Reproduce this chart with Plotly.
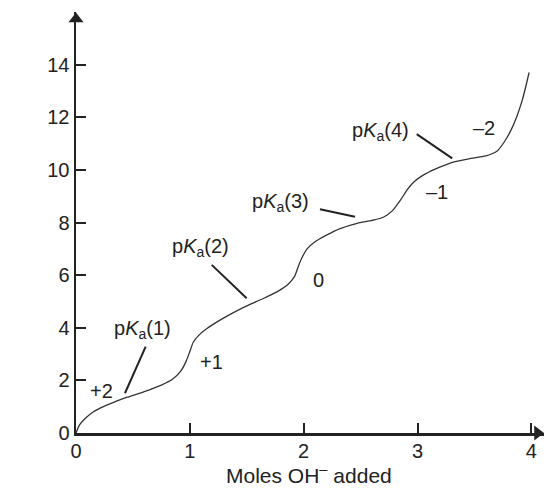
import plotly.graph_objects as go

# Titration curve points (moles OH- added, pH)
moles = [0, 0.03, 0.08, 0.15, 0.25, 0.35, 0.45, 0.55, 0.65, 0.75, 0.85, 0.92, 0.97, 1.0,
         1.03, 1.08, 1.15, 1.25, 1.35, 1.5, 1.65, 1.78, 1.87, 1.92, 1.95, 1.98, 2.03, 2.1,
         2.2, 2.32, 2.47, 2.6, 2.7, 2.78, 2.85, 2.91, 2.97, 3.05, 3.15, 3.3, 3.45, 3.6,
         3.7, 3.76, 3.82, 3.87, 3.92, 3.95, 3.98]
ph = [0, 0.3, 0.55, 0.8, 1.02, 1.2, 1.36, 1.5, 1.65, 1.82, 2.05, 2.35, 2.75, 3.1,
      3.45, 3.72, 3.97, 4.25, 4.5, 4.83, 5.12, 5.4, 5.68, 5.95, 6.3, 6.62, 7.0, 7.27,
      7.52, 7.77, 7.97, 8.08, 8.2, 8.45, 8.85, 9.25, 9.55, 9.8, 10.02, 10.28, 10.42, 10.53,
      10.72, 11.05, 11.5, 12.0, 12.65, 13.15, 13.7]

x_ticks = [0, 1, 2, 3, 4]
y_ticks = [0, 2, 4, 6, 8, 10, 12, 14]

# pKa labels and their pointer lines (text pos, line start, line end)
pka_text = ["p<i>K</i><sub>a</sub>(1)", "p<i>K</i><sub>a</sub>(2)",
            "p<i>K</i><sub>a</sub>(3)", "p<i>K</i><sub>a</sub>(4)"]
pka_tx = [0.584, 1.090, 1.800, 2.679]
pka_ty = [3.95, 7.05, 8.76, 11.46]
ptr_x0 = [0.612, 1.192, 2.143, 2.993]
ptr_y0 = [3.28, 6.39, 8.50, 11.36]
ptr_x1 = [0.430, 1.499, 2.451, 3.305]
ptr_y1 = [1.51, 5.12, 8.22, 10.44]

# charge labels
charge_text = ["+2", "+1", "0", "\u20131", "\u20132"]
charge_x = [0.228, 1.186, 2.134, 3.171, 3.584]
charge_y = [1.60, 2.70, 5.82, 9.16, 11.59]

FONT = "Liberation Sans, Arial, sans-serif"
INK = "#222222"
FS = 20

fig = go.Figure()
fig.add_trace(go.Scatter(x=moles, y=ph, mode="lines",
                         line=dict(color="#333333", width=1.3, shape="spline", smoothing=0.6),
                         hoverinfo="skip", showlegend=False))

# axis arrowheads (inside the axis ranges, so they are drawn)
fig.add_trace(go.Scatter(x=[4.054], y=[0], mode="markers", cliponaxis=False,
                         marker=dict(symbol="triangle-right", size=13, color=INK, line=dict(width=0)),
                         hoverinfo="skip", showlegend=False))
fig.add_trace(go.Scatter(x=[0], y=[15.73], mode="markers", cliponaxis=False,
                         marker=dict(symbol="triangle-up", size=13, color=INK, line=dict(width=0)),
                         hoverinfo="skip", showlegend=False))

for i in range(len(pka_text)):
    fig.add_shape(type="line", xref="x", yref="y",
                  x0=ptr_x0[i], y0=ptr_y0[i], x1=ptr_x1[i], y1=ptr_y1[i],
                  line=dict(color=INK, width=2))
    fig.add_annotation(x=pka_tx[i], y=pka_ty[i], text=pka_text[i], showarrow=False,
                       xanchor="center", yanchor="middle",
                       font=dict(family=FONT, size=FS, color=INK))

for t, x, y in zip(charge_text, charge_x, charge_y):
    fig.add_annotation(x=x, y=y, text=t, showarrow=False, xanchor="center", yanchor="middle",
                       font=dict(family=FONT, size=FS, color=INK))

fig.add_annotation(x=-0.474, y=14, text="pH", showarrow=False, xanchor="center", yanchor="middle",
                   font=dict(family=FONT, size=FS, color=INK))

# x-axis title
fig.add_annotation(x=2.05, y=0, yref="y", xref="x", text="Moles OH<sup>\u2013</sup> added",
                   showarrow=False, xanchor="center", yanchor="top", yshift=-26,
                   font=dict(family=FONT, size=21, color=INK))

fig.update_layout(
    width=544, height=488,
    margin=dict(l=76, r=0, t=12, b=55, pad=0, autoexpand=False),
    paper_bgcolor="white", plot_bgcolor="white",
    font=dict(family=FONT, size=FS, color=INK),
    xaxis=dict(range=[0, 4.111], tickvals=x_ticks, ticktext=[str(v) for v in x_ticks],
               automargin=False, ticklabelstandoff=-2,
               showgrid=False, zeroline=False, showline=True, linecolor=INK, linewidth=2.5,
               ticks="inside", ticklen=10, tickwidth=2, tickcolor=INK,
               tickfont=dict(family=FONT, size=FS, color=INK)),
    yaxis=dict(range=[0, 16.0], tickvals=y_ticks, ticktext=[str(v) for v in y_ticks],
               automargin=False, ticklabelstandoff=0,
               showgrid=False, zeroline=False, showline=True, linecolor=INK, linewidth=2.5,
               ticks="inside", ticklen=10, tickwidth=2, tickcolor=INK,
               tickfont=dict(family=FONT, size=FS, color=INK)),
)

fig.write_html("out.html", config={"displayModeBar": False, "staticPlot": True},
               post_script="document.body.style.margin='0px';document.body.style.overflow='hidden';")
